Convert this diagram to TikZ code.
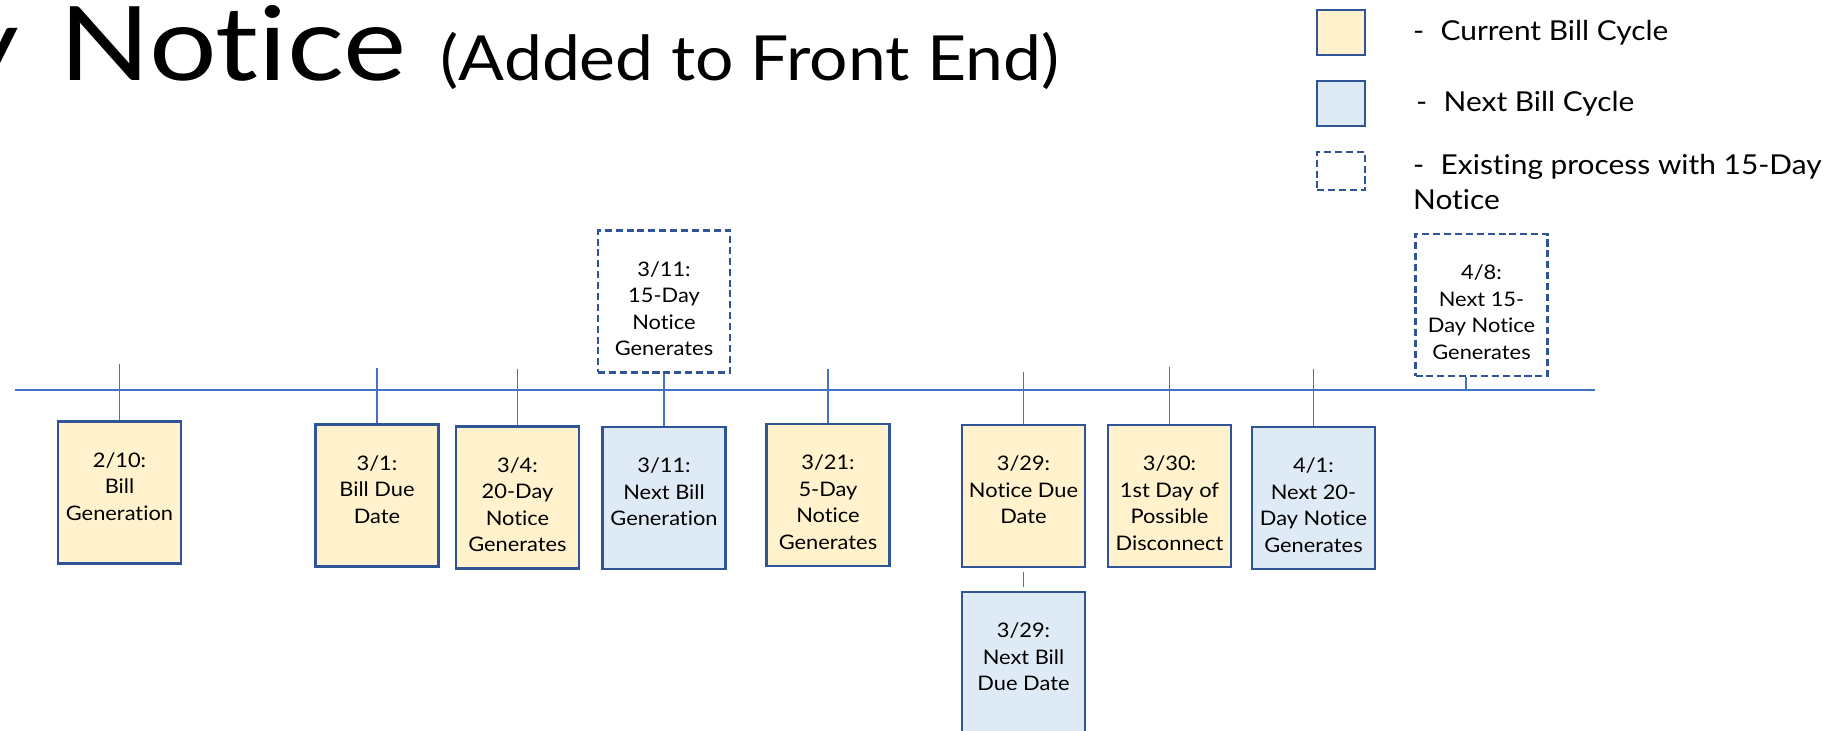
\documentclass[tikz,border=0pt]{standalone}
\usepackage{fontspec}
\setmainfont{Lato}[FakeStretch=1.09, Ligatures=NoCommon]
\newfontfamily\titlefont{Lato}[FakeStretch=1.16, Ligatures=NoCommon]
\usepackage{xcolor}
\usetikzlibrary{positioning}

\definecolor{billyellow}{HTML}{FFF2CC}
\definecolor{billblue}{HTML}{DEEBF7}
\definecolor{boxedge}{HTML}{2F5597}
\definecolor{lineblue}{HTML}{4472C4}

% event text, hung from the top of the box
\newcommand{\evtext}[1]{\parbox[c][0.87cm][t]{1.2cm}{\centering\strut #1}}

\begin{document}
\begin{tikzpicture}[
  event/.style={draw=boxedge, line width=0.8pt, minimum width=1.23cm, minimum height=1.42cm,
                inner sep=0pt, font=\fontsize{5.7}{7.5}\selectfont},
  current/.style={event, fill=billyellow},
  nextcycle/.style={event, fill=billblue},
  existing/.style={event, fill=white, dash pattern=on 2pt off 1.1pt, minimum width=1.32cm},
  stem/.style={draw=lineblue, line width=0.5pt},
  timeline/.style={draw=lineblue, line width=0.5pt},
  legtext/.style={inner sep=0pt, align=left, font=\fontsize{7.8}{10.2}\selectfont},
  title/.style={inner sep=0pt, font=\titlefont\fontsize{29.3}{32}\selectfont},
  subtitle/.style={inner sep=0pt, font=\fontsize{17.7}{20}\selectfont}
]
\fill[white] (0,0) rectangle (18.42,7.31);
\useasboundingbox (0,0) rectangle (18.42,7.31);

% title, cut at the left edge
\node[title, anchor=base east] (ttl) at (4.07,6.50) {y\hspace{0.41cm}Notice};
\node[subtitle, base right=0.33cm of ttl] (ttlsub) {(Added to Front End)};

% legend
\node[current, minimum width=0.48cm, minimum height=0.45cm] (legcur) at (13.41,6.985) {};
\node[nextcycle, minimum width=0.48cm, minimum height=0.45cm] (legnext) at (13.41,6.275) {};
\node[existing, minimum width=0.48cm, minimum height=0.38cm] (legold) at (13.41,5.60) {};
\node[legtext, right=0.46cm of legcur] (legcurtxt) {-\hspace{0.6em}Current Bill Cycle};
\node[legtext, right=0.49cm of legnext] (legnexttxt) {-\hspace{0.6em}Next Bill Cycle};
\node[legtext, right=0.46cm of legold, yshift=-0.11cm] (legoldtxt) {-\hspace{0.6em}Existing process with 15-Day\\Notice};

% timeline
\coordinate (lineL) at (0.15,3.41);
\coordinate (lineR) at (15.95,3.41);
\draw[timeline] (lineL) -- (lineR);

% events
\node[current] (b210) at (1.195,2.385) {\evtext{2/10:\\Bill\\Generation}};
\node[current] (b31) at (3.77,2.355) {\evtext{3/1:\\Bill Due\\Date}};
\node[current] (b34) at (5.175,2.335) {\evtext{3/4:\\20-Day\\Notice\\Generates}};
\node[nextcycle] (b311) at (6.64,2.33) {\evtext{3/11:\\Next Bill\\Generation}};
\node[existing] (n311) at (6.64,4.295) {\evtext{3/11:\\15-Day\\Notice\\Generates}};
\node[current] (b321) at (8.28,2.36) {\evtext{3/21:\\5-Day\\Notice\\Generates}};
\node[current] (b329) at (10.235,2.35) {\evtext{3/29:\\Notice Due\\Date}};
\node[nextcycle] (n329) at (10.235,0.68) {\evtext{3/29:\\Next Bill\\Due Date}};
\node[current] (b330) at (11.695,2.35) {\evtext{3/30:\\1st Day of\\Possible\\Disconnect}};
\node[nextcycle] (b41) at (13.135,2.33) {\evtext{4/1:\\Next 20-\\Day Notice\\Generates}};
\node[existing] (n48) at (14.815,4.26) {\evtext{4/8:\\Next 15-\\Day Notice\\Generates}};

% tick tops
\coordinate (t210) at (1.195,3.67);
\coordinate (t31) at (3.77,3.63);
\coordinate (t34) at (5.175,3.62);
\coordinate (t321) at (8.28,3.62);
\coordinate (t329) at (10.235,3.59);
\coordinate (t330) at (11.695,3.64);
\coordinate (t41) at (13.135,3.62);
\coordinate (t48) at (14.66,3.41);

\draw[stem] (t210) -- (b210.north);
\draw[stem] (t31) -- (b31.north);
\draw[stem] (t34) -- (b34.north);
\draw[stem] (n311.south) -- (b311.north);
\draw[stem] (t321) -- (b321.north);
\draw[stem] (t329) -- (b329.north);
\draw[stem, shorten <=0.04cm, shorten >=0.04cm] (b329.south) -- (n329.north);
\draw[stem] (t330) -- (b330.north);
\draw[stem] (t41) -- (b41.north);
\draw[stem] (t48 |- n48.south) -- (t48);

\end{tikzpicture}
\end{document}
